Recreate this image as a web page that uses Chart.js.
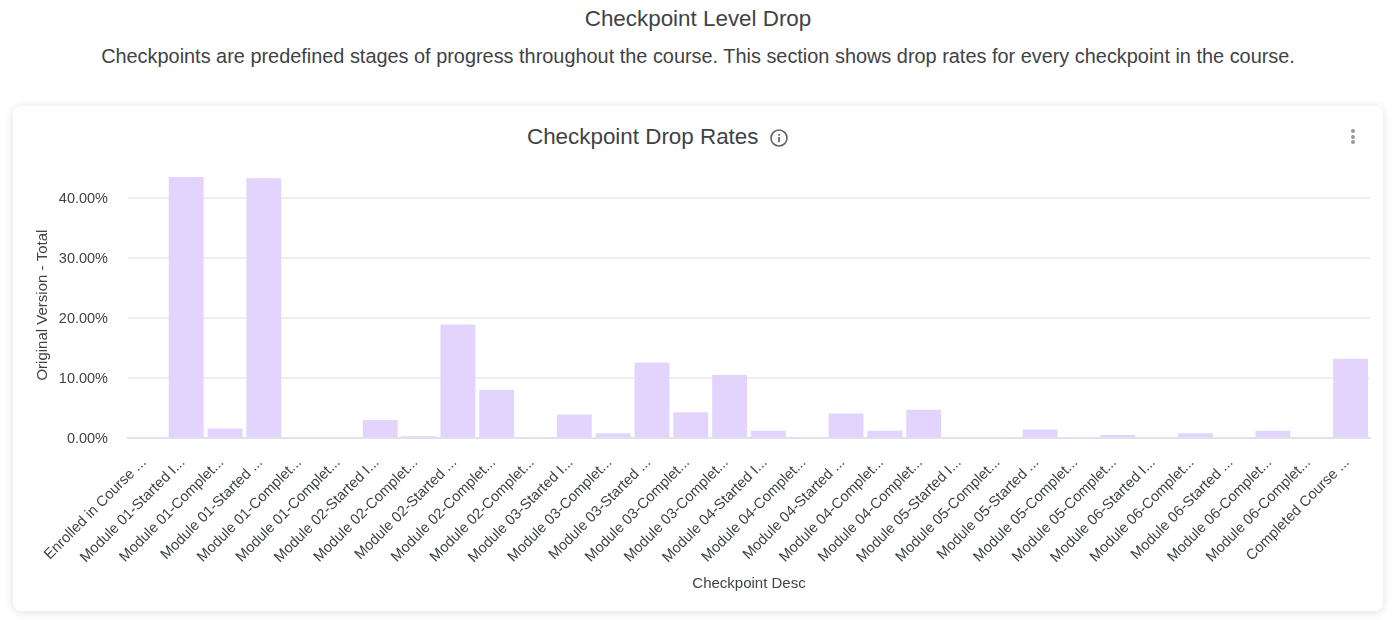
<!DOCTYPE html>
<html><head><meta charset="utf-8">
<script src="https://cdn.jsdelivr.net/npm/chart.js@4"></script>
<style>
html,body{margin:0;padding:0;background:#fff;width:1396px;height:620px;overflow:hidden;font-family:"Liberation Sans",Arial,sans-serif;color:#3f4345}
.h{position:absolute;left:0;width:1396px;text-align:center;white-space:nowrap}
#h1{top:6px;font-size:22.4px;line-height:26px}
#h2{top:44px;font-size:19.9px;line-height:24px}
#card{position:absolute;left:13px;top:106px;width:1370px;height:505px;background:#fff;border-radius:8px;box-shadow:0 1px 10px rgba(0,0,0,.13)}
#t{position:absolute;left:527px;top:123px;font-size:22.4px;line-height:28px;white-space:nowrap;color:#3f4345}
#i{position:absolute;left:770px;top:129px}
.d{position:absolute;left:1351px;width:4px;height:4px;border-radius:50%;background:#999}
canvas{position:absolute;left:0;top:0}
</style></head><body>
<div class="h" id="h1">Checkpoint Level Drop</div>
<div class="h" id="h2">Checkpoints are predefined stages of progress throughout the course. This section shows drop rates for every checkpoint in the course.</div>
<div id="card"></div>
<div id="t">Checkpoint Drop Rates</div>
<svg id="i" width="18" height="18" viewBox="0 0 18 18"><circle cx="9" cy="9" r="8" fill="none" stroke="#5f6368" stroke-width="1.6"/><rect x="8.2" y="8" width="1.7" height="5.2" fill="#5f6368"/><rect x="8.2" y="4.9" width="1.7" height="1.8" fill="#5f6368"/></svg>
<div class="d" style="top:129px"></div><div class="d" style="top:134.500px"></div><div class="d" style="top:140px"></div>
<canvas id="c" width="1396" height="620"></canvas>
<script>
const categories = [
"Enrolled in Course ...","Module 01-Started I...","Module 01-Complet...","Module 01-Started ...","Module 01-Complet...","Module 01-Complet...",
"Module 02-Started I...","Module 02-Complet...","Module 02-Started ...","Module 02-Complet...","Module 02-Complet...",
"Module 03-Started I...","Module 03-Complet...","Module 03-Started ...","Module 03-Complet...","Module 03-Complet...",
"Module 04-Started I...","Module 04-Complet...","Module 04-Started ...","Module 04-Complet...","Module 04-Complet...",
"Module 05-Started I...","Module 05-Complet...","Module 05-Started ...","Module 05-Complet...","Module 05-Complet...",
"Module 06-Started I...","Module 06-Complet...","Module 06-Started ...","Module 06-Complet...","Module 06-Complet...",
"Completed Course ..."];
const dropRates = [0,43.5,1.6,43.3,0,0,3.0,0.3,18.9,8.0,0,3.9,0.8,12.6,4.3,10.5,1.2,0,4.1,1.2,4.7,0,0,1.4,0,0.5,0,0.8,0,1.2,0,13.2];
const yTicks = [0,10,20,30,40];
const yMax = 44.3;
const FONT = '"Liberation Sans", Arial, sans-serif';
const TXT = '#3f4345';
new Chart(document.getElementById('c'),{
  type:'bar',
  data:{labels:categories,datasets:[{data:dropRates,backgroundColor:'#e3d4fe',borderWidth:0,barPercentage:0.9,categoryPercentage:1}]},
  options:{
    responsive:false,animation:false,devicePixelRatio:1,
    layout:{padding:{left:34,right:26,top:172.200,bottom:27}},
    plugins:{legend:{display:false},title:{display:false},tooltip:{enabled:false}},
    scales:{
      x:{
        grid:{display:false},
        border:{display:true,color:'#dfe2ec',width:2},
        ticks:{autoSkip:false,minRotation:45,maxRotation:45,color:TXT,font:{family:FONT,size:14.700},padding:8,labelOffset:-3.500},
        title:{display:true,text:'Checkpoint Desc',color:TXT,font:{family:FONT,size:15},padding:{top:0,bottom:0}},
        afterFit(s){s.height=155;}
      },
      y:{
        min:0,max:yMax,
        afterBuildTicks(s){s.ticks=yTicks.map(v=>({value:v}));},
        grid:{color:'#eeeeee',lineWidth:2,drawTicks:false},
        border:{display:false},
        ticks:{color:TXT,font:{family:FONT,size:14.500},padding:20,labelOffset:1,callback:v=>v.toFixed(2)+'%'},
        title:{display:true,text:'Original Version - Total',color:TXT,font:{family:FONT,size:15},padding:{top:0,bottom:0}},
        afterFit(s){s.width=94;}
      }
    }
  }
});
</script>
</body></html>
